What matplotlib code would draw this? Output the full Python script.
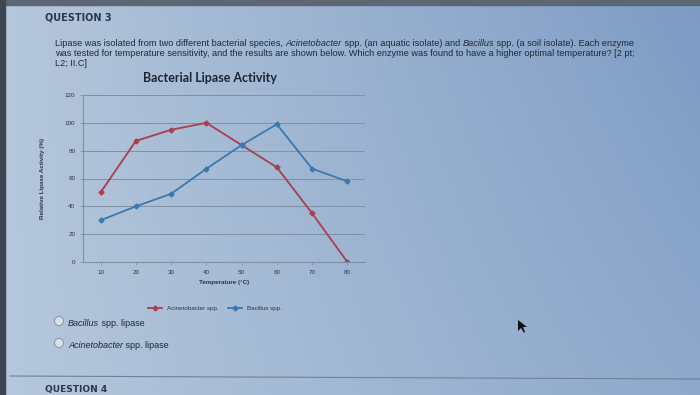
import numpy as np
import matplotlib.pyplot as plt
from matplotlib.lines import Line2D

# values
temps = [10, 20, 30, 40, 50, 60, 70, 80]
acinetobacter = [50, 87, 95, 100, 84, 68, 35, 0]
bacillus = [30, 40, 49, 67, 84, 99, 67, 58]
y_ticks = [0, 20, 40, 60, 80, 100, 120]

question_lines = [
    [("Lipase was isolated from two different bacterial species, ", "normal"),
     ("Acinetobacter", "italic"), (" spp. (an aquatic isolate) and ", "normal"),
     ("Bacillus", "italic"), (" spp. (a soil isolate). Each enzyme", "normal")],
    [("was tested for temperature sensitivity, and the results are shown below. "
      "Which enzyme was found to have a higher optimal temperature? [2 pt;", "normal")],
    [("L2; II.C]", "normal")],
]
answers = [[("Bacillus", "italic"), (" spp. lipase", "normal")],
           [("Acinetobacter", "italic"), (" spp. lipase", "normal")]]

W, H = 700, 395
fig = plt.figure(figsize=(7, 3.95), dpi=100)
plt.rcParams['font.family'] = ['Liberation Sans', 'DejaVu Sans']

# background: photo of a screen, lighter on the left, darker on the right
bg = fig.add_axes([0, 0, 1, 1])
gx = np.linspace(0, 1, 200)
gy = np.linspace(0, 1, 120)
GX, GY = np.meshgrid(gx, gy)
light = np.array([0.71, 0.78, 0.86])
dark = np.array([0.49, 0.61, 0.77])
t = np.clip(0.7 * GX + 0.3 * (1 - GY) * GX, 0, 1)[..., None]
img = light * (1 - t) + dark * t
bg.imshow(img, extent=[0, W, H, 0], aspect='auto')
bg.set_xlim(0, W)
bg.set_ylim(H, 0)
bg.axis('off')
bg.add_patch(plt.Rectangle((0, 0), W, 5, color='#5d6673'))
bg.add_patch(plt.Rectangle((0, 0), 5, H, color='#3e4550'))

txt_color = '#1f2836'
bg.text(45, 17, "QUESTION 3", fontsize=7, fontweight='bold', color='#2b3650', va='center',
        family='DejaVu Sans')


def draw_runs(x, y, runs, size):
    r = fig.canvas.get_renderer()
    inv = bg.transData.inverted()
    for s, style in runs:
        t = bg.text(x, y, s, fontsize=size, style=style, color=txt_color, va='center')
        bb = t.get_window_extent(renderer=r)
        x = inv.transform((bb.x1, bb.y0))[0]


for i, line in enumerate(question_lines):
    draw_runs(55, 44 + 10 * i, line, 6.6)

# radio buttons and answers
for i, ans in enumerate(answers):
    yy = 322 + 22 * i
    bg.add_patch(plt.Circle((59, yy - 1), 4.5, facecolor='#d8e0ea', edgecolor='#8894a4', lw=0.7))
    draw_runs(68, yy + 1, ans, 6.5)

# mouse pointer
bg.add_patch(plt.Polygon([[518, 320], [518, 331], [521, 328], [524, 333], [525, 332], [523, 327], [527, 327]],
                         closed=True, facecolor='#111111', edgecolor='none'))

bg.plot([10, 700], [376, 379], color='#6f819a', lw=0.8)
bg.text(45, 385, "QUESTION 4", fontsize=6.5, fontweight='bold', color='#2b3650', va='top',
        family='DejaVu Sans')

# the chart itself
ax = fig.add_axes([83 / W, 1 - 262 / H, (365 - 83) / W, (262 - 95) / H])
ax.patch.set_alpha(0)
ax.plot(temps, acinetobacter, color='#a5404c', lw=1.3, marker='D', markersize=2.5, label='Acinetobacter spp.')
ax.plot(temps, bacillus, color='#3d78ab', lw=1.3, marker='D', markersize=2.5, label='Bacillus spp.')
ax.set_xlim(5, 85)
ax.set_ylim(0, 120)
ax.set_xticks(temps)
ax.set_yticks(y_ticks)
ax.grid(True, axis='y', color='#7f90a4', lw=0.7)
ax.set_axisbelow(True)
for s in ['top', 'right']:
    ax.spines[s].set_visible(False)
ax.spines['left'].set_color('#7f90a4')
ax.spines['bottom'].set_color('#7f90a4')
ax.tick_params(axis='both', labelsize=4.5, colors='#7f90a4', labelcolor='#2a3448', length=2, width=0.6)
ax.set_title("Bacterial Lipase Activity", fontsize=9, fontweight='bold', color='#1c2433',
             family=['Lato', 'DejaVu Sans'], pad=9, x=0.45)
ax.set_xlabel("Temperature (°C)", fontsize=4.5, fontweight='bold', color='#2a3448', labelpad=4)
ax.set_ylabel("Relative Lipase Activity (%)", fontsize=4.5, fontweight='bold', color='#2a3448', labelpad=14)

handles = [Line2D([], [], color='#a5404c', lw=1.3, marker='D', markersize=2.5),
           Line2D([], [], color='#3d78ab', lw=1.3, marker='D', markersize=2.5)]
fig.legend(handles, ['Acinetobacter spp.', 'Bacillus spp.'], loc='center',
           bbox_to_anchor=(215 / W, 1 - 308 / H), ncol=2, frameon=False,
           fontsize=4.5, handlelength=2.2, columnspacing=1.5, labelcolor='#2a3448')

fig.savefig("out.png", dpi=100)
